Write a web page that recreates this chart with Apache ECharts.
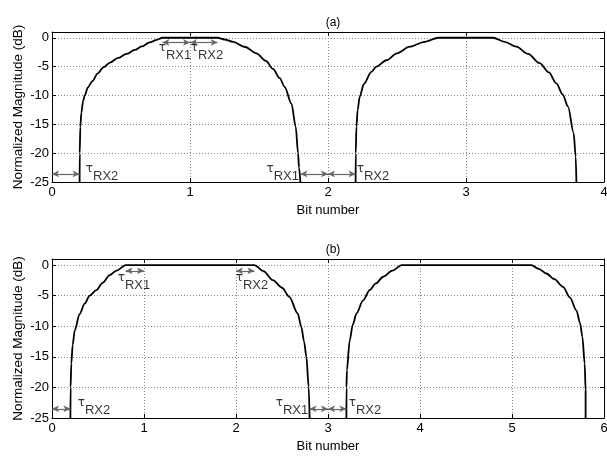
<!DOCTYPE html>
<html><head><meta charset="utf-8">
<script src="https://cdn.jsdelivr.net/npm/echarts@6/dist/echarts.min.js"></script>
<style>html,body{margin:0;padding:0;background:#fff}#c{width:607px;height:456px}</style>
</head><body><div id="c"></div>
<script>
// ---- data ----
const aTicksX = [0, 1, 2, 3, 4];
const bTicksX = [0, 1, 2, 3, 4, 5, 6];
const ticksY = [-25, -20, -15, -10, -5, 0];

const aPulse1 = [[0.2,-25],[0.201,-20],[0.205,-15.5],[0.213,-13],[0.225,-11],[0.237,-10],[0.26,-8.6],[0.293,-7.5],[0.33,-6.2],[0.375,-5.1],[0.42,-4.3],[0.478,-3.5],[0.54,-2.8],[0.6,-2.1],[0.65,-1.5],[0.708,-0.8],[0.76,-0.35],[0.8,0],[1.2,0],[1.25,-0.3],[1.312,-0.7],[1.4,-1.6],[1.481,-2.7],[1.55,-4],[1.601,-5.4],[1.65,-7],[1.686,-8.5],[1.735,-11.4],[1.766,-15.4],[1.783,-20],[1.79,-22.5],[1.8,-25]];
const aPulse2 = [[2.2,-25],[2.201,-20],[2.206,-15.4],[2.215,-12.5],[2.23,-10.2],[2.26,-8],[2.314,-5.9],[2.351,-5],[2.423,-3.9],[2.5,-2.7],[2.592,-1.55],[2.7,-0.7],[2.8,0],[3.196,0],[3.28,-0.7],[3.365,-1.55],[3.45,-2.8],[3.534,-4.4],[3.6,-6],[3.655,-7.9],[3.7,-9.8],[3.739,-11.9],[3.78,-16.5],[3.795,-20.6],[3.8,-25]];
const bPulse1 = [[0.2,-25],[0.202,-20],[0.21,-16.1],[0.225,-13],[0.247,-10.7],[0.3,-8],[0.355,-6.3],[0.41,-5],[0.482,-4.1],[0.55,-2.9],[0.627,-1.64],[0.7,-0.9],[0.8,0],[2.2,0],[2.3,-1],[2.4,-2.46],[2.5,-3.7],[2.58,-5.2],[2.67,-7.9],[2.71,-10.1],[2.74,-12.5],[2.765,-15],[2.79,-19.9],[2.8,-25]];
const bPulse2 = [[3.2,-25],[3.201,-20],[3.205,-17.2],[3.236,-12.3],[3.27,-9.7],[3.31,-7.9],[3.38,-5.8],[3.453,-4.1],[3.52,-3],[3.6,-1.9],[3.7,-0.9],[3.8,0],[5.21,0],[5.29,-0.6],[5.374,-1.37],[5.46,-2.3],[5.554,-3.55],[5.63,-5.3],[5.7,-7.4],[5.74,-9.5],[5.765,-11.7],[5.79,-16.1],[5.8,-20.5],[5.8,-25]];

// arrows: [x1, x2, y]
const aArrows = [[0,0.2,-23.6],[1.8,2,-23.6],[2,2.2,-23.6],[0.8,1,-0.8],[1,1.2,-0.8]];
const bArrows = [[0,0.2,-23.5],[2.8,3,-23.5],[3,3.2,-23.5],[0.8,1,-0.93],[2,2.2,-0.93]];
// labels: [x, y, subscript, align]
const aLabels = [[0.245,-23.4,'RX2','left'],[1.79,-23.4,'RX1','right'],[2.208,-23.4,'RX2','left'],[0.773,-2.4,'RX1','left'],[1.005,-2.4,'RX2','left']];
const bLabels = [[0.279,-23.2,'RX2','left'],[2.785,-23.2,'RX1','right'],[3.225,-23.2,'RX2','left'],[0.714,-2.8,'RX1','left'],[1.997,-2.8,'RX2','left']];

const FONT = 'Liberation Sans, Arial, sans-serif';
const chart = echarts.init(document.getElementById('c'), null, {renderer:'canvas'});

function xAx(gi, ticks, bottom) {
  return {
    type:'value', gridIndex:gi, min:ticks[0], max:ticks[ticks.length-1], interval:1,
    position: bottom ? 'bottom' : 'top',
    axisLine:{show:true, onZero:false, lineStyle:{color:'#000', width:1}},
    axisTick:{show:true, inside:true, length:4, lineStyle:{color:'#000'}},
    axisLabel:{show:bottom, color:'#000', fontFamily:FONT, fontSize:13, margin:4},
    splitLine:{show:bottom, lineStyle:{color:'#888', type:[1,2], width:1}},
    name: bottom ? 'Bit number' : '', nameLocation:'middle', nameGap:22,
    nameTextStyle:{color:'#000', fontFamily:FONT, fontSize:13}
  };
}
function yAx(gi, left) {
  return {
    type:'value', gridIndex:gi, min:-25, max:1, interval:5,
    position: left ? 'left' : 'right',
    axisLine:{show:true, onZero:false, lineStyle:{color:'#000', width:1}},
    axisTick:{show:true, inside:true, length:4, lineStyle:{color:'#000'}},
    axisLabel:{show:left, color:'#000', fontFamily:FONT, fontSize:13, margin:3,
      formatter: v => (ticksY.indexOf(v) >= 0 ? String(v) : '')},
    splitLine:{show:left, lineStyle:{color:'#888', type:[1,2], width:1}},
    name: left ? 'Normalized Magnitude (dB)' : '', nameLocation:'middle', nameGap:27,
    nameMoveOverlap:false,
    nameTextStyle:{color:'#000', fontFamily:FONT, fontSize:13.5}
  };
}
function curve(gi, data, arrows) {
  const s = {
    type:'line', xAxisIndex:gi*2, yAxisIndex:gi*2, data:data, showSymbol:false, symbol:'none',
    smooth:0.3, smoothMonotone:'x',
    lineStyle:{color:'#000', width:1.8}, animation:false, silent:true, clip:true, z:3
  };
  if (arrows) {
    s.markLine = {
      silent:true, animation:false, symbol:['arrow','arrow'], symbolSize:[5,7],
      label:{show:false}, lineStyle:{color:'#666', width:1.2, type:'solid'},
      data: arrows.map(a => [{coord:[a[0],a[2]]},{coord:[a[1],a[2]]}])
    };
  }
  return s;
}
function labels(gi, list) {
  return {
    type:'scatter', xAxisIndex:gi*2, yAxisIndex:gi*2, symbolSize:0, silent:true, animation:false, z:5,
    data: list.map(l => ({value:[l[0],l[1]], label:{align:l[3], formatter:'{t|τ}{s|'+l[2]+'}'}})),
    label:{show:true, position:[0,0], verticalAlign:'middle', color:'#000', fontFamily:FONT,
      rich:{ t:{fontSize:12, fontFamily:'DejaVu Sans', color:'#000', verticalAlign:'top'},
             s:{fontSize:13, fontFamily:FONT, color:'#000', verticalAlign:'bottom', padding:[7,0,0,0]} }}
  };
}

chart.setOption({
  backgroundColor:'#fff',
  animation:false,
  title:[
    {text:'(a)', left:328, top:12, textAlign:'center', textStyle:{fontFamily:FONT, fontSize:12, fontWeight:'normal', color:'#000'}},
    {text:'(b)', left:328, top:239, textAlign:'center', textStyle:{fontFamily:FONT, fontSize:12, fontWeight:'normal', color:'#000'}}
  ],
  grid:[
    {left:52, right:3, top:32, height:150, show:false, containLabel:false, outerBoundsMode:'none'},
    {left:52, right:3, top:259, height:159, show:false, containLabel:false, outerBoundsMode:'none'}
  ],
  xAxis:[xAx(0,aTicksX,true), xAx(0,aTicksX,false), xAx(1,bTicksX,true), xAx(1,bTicksX,false)],
  yAxis:[yAx(0,true), yAx(0,false), yAx(1,true), yAx(1,false)],
  series:[
    curve(0,aPulse1,aArrows), curve(0,aPulse2,null), labels(0,aLabels),
    curve(1,bPulse1,bArrows), curve(1,bPulse2,null), labels(1,bLabels)
  ]
});
</script></body></html>
